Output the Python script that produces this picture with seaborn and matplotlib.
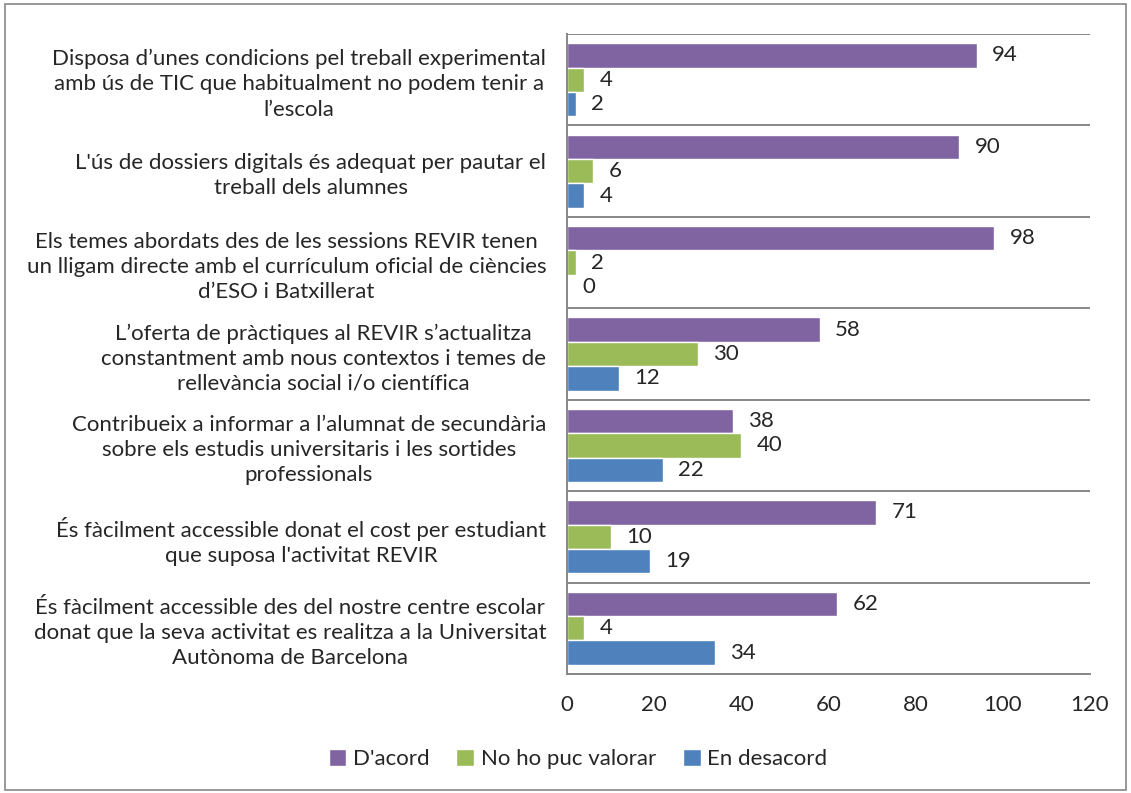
import matplotlib
matplotlib.use('Agg')
import matplotlib.pyplot as plt
import seaborn as sb
import pandas as pd
from matplotlib.patches import Rectangle

categories = [
    "Disposa d\u2019unes condicions pel treball experimental\namb \u00fas de TIC que habitualment no podem tenir a\nl\u2019escola",
    "L'\u00fas de dossiers digitals \u00e9s adequat per pautar el\ntreball dels alumnes",
    "Els temes abordats des de les sessions REVIR tenen\nun lligam directe amb el curr\u00edculum oficial de ci\u00e8ncies\nd\u2019ESO i Batxillerat",
    "L\u2019oferta de pr\u00e0ctiques al REVIR s\u2019actualitza\nconstantment amb nous contextos i temes de\nrellev\u00e0ncia social i/o cient\u00edfica",
    "Contribueix a informar a l\u2019alumnat de secund\u00e0ria\nsobre els estudis universitaris i les sortides\nprofessionals",
    "\u00c9s f\u00e0cilment accessible donat el cost per estudiant\nque suposa l'activitat REVIR",
    "\u00c9s f\u00e0cilment accessible des del nostre centre escolar\ndonat que la seva activitat es realitza a la Universitat\nAut\u00f2noma de Barcelona",
]
series = ["D'acord", "No ho puc valorar", "En desacord"]
d_acord = [94, 90, 98, 58, 38, 71, 62]
no_valorar = [4, 6, 2, 30, 40, 10, 4]
desacord = [2, 4, 0, 12, 22, 19, 34]
colors = ["#8064A2", "#9BBB59", "#4F81BD"]

rows = []
for vals, name in zip([d_acord, no_valorar, desacord], series):
    for cat, v in zip(categories, vals):
        rows.append({"cat": cat, "serie": name, "value": v})
df = pd.DataFrame(rows)

sb.set_style("white")
plt.rcParams['font.family'] = ['Lato', 'DejaVu Sans']
fs = 16

fig = plt.figure(figsize=(11.31, 7.93), dpi=100)
ax = fig.add_axes([567 / 1131, 1 - 674 / 793, (1090 - 567) / 1131, (674 - 34) / 793])

sb.barplot(data=df, y="cat", x="value", hue="serie", orient="h",
           palette=colors, width=0.8, saturation=1, ax=ax, legend=True)

ax.set_xlim(0, 120)
ax.set_ylim(6.5, -0.5)
ax.set_xticks(range(0, 121, 20))
ax.set_xlabel("")
ax.set_ylabel("")
ax.tick_params(axis='x', length=0, pad=15, labelsize=fs)
ax.tick_params(axis='y', length=0, pad=15, labelsize=fs)
for lab in ax.get_yticklabels():
    lab.set_multialignment('center')
    lab.set_linespacing(1.32)

grid_col = "#878787"
for y in [i - 0.5 for i in range(8)]:
    ax.axhline(y, color=grid_col, lw=1.4, zorder=0)
for s in ['top', 'right']:
    ax.spines[s].set_visible(False)
ax.spines['left'].set_color(grid_col)
ax.spines['left'].set_linewidth(1.4)
ax.spines['bottom'].set_color(grid_col)
ax.spines['bottom'].set_linewidth(1.4)

for cont in ax.containers:
    for bar in cont:
        w = bar.get_width()
        ax.annotate(f"{int(w)}", (w, bar.get_y() + bar.get_height() / 2),
                    xytext=(11, 0), textcoords="offset points",
                    ha='left', va='center', fontsize=fs)

handles, labels = ax.get_legend_handles_labels()
ax.legend_.remove()
fig.legend(handles, labels, loc='center', bbox_to_anchor=(578 / 1131, 1 - 759 / 793),
           ncol=3, frameon=False, fontsize=fs, handlelength=0.8, handleheight=0.8,
           handletextpad=0.3, columnspacing=1.2)

fig.patches.append(Rectangle((5 / 1131, 3 / 793), 1121 / 1131, 786 / 793,
                             transform=fig.transFigure, fill=False,
                             edgecolor="#878787", lw=1.2))

fig.savefig("out.png", dpi=100)
